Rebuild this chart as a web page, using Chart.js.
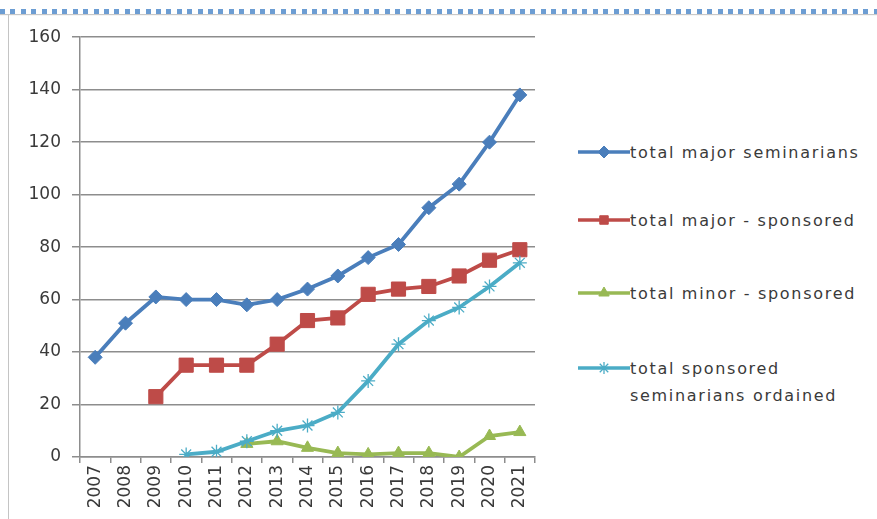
<!DOCTYPE html>
<html>
<head>
<meta charset="utf-8">
<script src="https://cdn.jsdelivr.net/npm/chart.js@4/dist/chart.umd.min.js"></script>
<style>
  html, body { margin: 0; padding: 0; background: #fff; }
  body { width: 877px; height: 519px; position: relative; overflow: hidden; font-family: 'DejaVu Sans', sans-serif; }
  .dots {
    position: absolute; left: 0; top: 9px; width: 877px; height: 5px;
    background: repeating-linear-gradient(90deg, #6c9dd3 0 5px, #ffffff 5px 10.4px);
    box-shadow: 0 1px 1px #c8c8c8;
  }
  .frame { position: absolute; left: 8px; top: 15px; width: 1px; height: 504px; background: #c4c4c4; }
  #wrap { position: absolute; left: 10px; top: 16px; width: 536px; height: 503px; }
  .legend { position: absolute; left: 578px; top: 0; }
  .item { position: absolute; left: 0; white-space: nowrap; color: #3a3a3a; font-size: 16px; letter-spacing: 1.7px; line-height: 27px; }
  .item canvas { position: absolute; left: 0; top: 0; }
  .item span { position: absolute; left: 52px; top: -13px; }
</style>
</head>
<body>
<div class="dots"></div>
<div class="frame"></div>
<div id="wrap"><canvas id="lineChart"></canvas></div>
<div class="legend" id="legend"></div>

<script>
// ── data ──
const YEARS = ['2007','2008','2009','2010','2011','2012','2013','2014','2015','2016','2017','2018','2019','2020','2021'];

const MAJOR_TOTAL     = [38, 51, 61, 60, 60, 58, 60, 64, 69, 76, 81, 95, 104, 120, 138];
const MAJOR_SPONSORED = [null, null, 23, 35, 35, 35, 43, 52, 53, 62, 64, 65, 69, 75, 79];
const MINOR_SPONSORED = [null, null, null, null, null, 5, 6, 3.5, 1.5, 1, 1.5, 1.5, 0, 8, 9.5];
const ORDAINED        = [null, null, null, 1, 2, 6, 10, 12, 17, 29, 43, 52, 57, 65, 74];

const SERIES_NAMES = [
  'total major seminarians',
  'total major - sponsored',
  'total minor - sponsored',
  ['total sponsored', 'seminarians ordained'],
];

const Y_TICKS = { min: 0, max: 160, step: 20 };

const COLORS = ['#4a7ebb', '#be4b48', '#98b954', '#4bacc6'];
const MARKERS = [
  { style: 'rectRot',  radius: 7,  borderWidth: 1 },
  { style: 'rect',     radius: 10, borderWidth: 1 },
  { style: 'triangle', radius: 7,  borderWidth: 1 },
  { style: 'star',     radius: 7,  borderWidth: 1.3 },
];
const SERIES_DATA = [MAJOR_TOTAL, MAJOR_SPONSORED, MINOR_SPONSORED, ORDAINED];

const FONT = { family: 'DejaVu Sans, sans-serif', size: 17 };
const GRID = '#8d8d8d';

// ── chart ──
const datasets = SERIES_DATA.map((d, i) => ({
  label: Array.isArray(SERIES_NAMES[i]) ? SERIES_NAMES[i].join(' ') : SERIES_NAMES[i],
  data: d,
  borderColor: COLORS[i],
  backgroundColor: COLORS[i],
  pointBackgroundColor: COLORS[i],
  pointBorderColor: COLORS[i],
  pointStyle: MARKERS[i].style,
  pointRadius: MARKERS[i].radius,
  pointBorderWidth: MARKERS[i].borderWidth,
  borderWidth: 3.8,
  tension: 0,
  order: 4 - i,
}));

new Chart(document.getElementById('lineChart'), {
  type: 'line',
  data: { labels: YEARS, datasets },
  options: {
    responsive: true,
    maintainAspectRatio: false,
    animation: false,
    layout: { padding: { top: 19, right: 5, left: 0, bottom: 0 } },
    scales: {
      x: {
        offset: true,
        grid: { offset: true, drawOnChartArea: false, color: GRID, lineWidth: 1.5, tickLength: 6 },
        border: { color: GRID, width: 1.5 },
        ticks: { color: '#3a3a3a', font: FONT, minRotation: 90, maxRotation: 90, padding: 2, autoSkip: false },
        afterFit: s => { s.height = 62; },
      },
      y: {
        min: Y_TICKS.min,
        max: Y_TICKS.max,
        grid: { color: GRID, lineWidth: 1.5, tickLength: 8 },
        border: { color: GRID, width: 1.5 },
        ticks: { stepSize: Y_TICKS.step, color: '#3a3a3a', font: FONT, padding: 11 },
        afterFit: s => { s.width = 70; },
      }
    },
    plugins: { legend: { display: false }, tooltip: { enabled: false } }
  }
});

// ── legend (line + marker + wrapped text) ──
const LEGEND_Y = [152, 220, 293, 368];
const legendEl = document.getElementById('legend');
SERIES_NAMES.forEach((name, i) => {
  const item = document.createElement('div');
  item.className = 'item';
  item.style.top = LEGEND_Y[i] + 'px';
  const c = document.createElement('canvas');
  c.width = 52; c.height = 24;
  c.style.top = '-12px';
  const ctx = c.getContext('2d');
  ctx.strokeStyle = COLORS[i];
  ctx.lineWidth = 3.5;
  ctx.beginPath(); ctx.moveTo(0, 12); ctx.lineTo(52, 12); ctx.stroke();
  ctx.fillStyle = COLORS[i];
  ctx.lineWidth = MARKERS[i].borderWidth;
  Chart.helpers.drawPoint(ctx, {
    pointStyle: MARKERS[i].style,
    radius: MARKERS[i].style === 'rect' ? 6 : MARKERS[i].radius - 1,
    borderWidth: MARKERS[i].borderWidth,
    rotation: 0,
  }, 26, 12);
  item.appendChild(c);
  const t = document.createElement('span');
  t.innerHTML = Array.isArray(name) ? name.join('<br>') : name;
  item.appendChild(t);
  legendEl.appendChild(item);
});
</script>
</body>
</html>
